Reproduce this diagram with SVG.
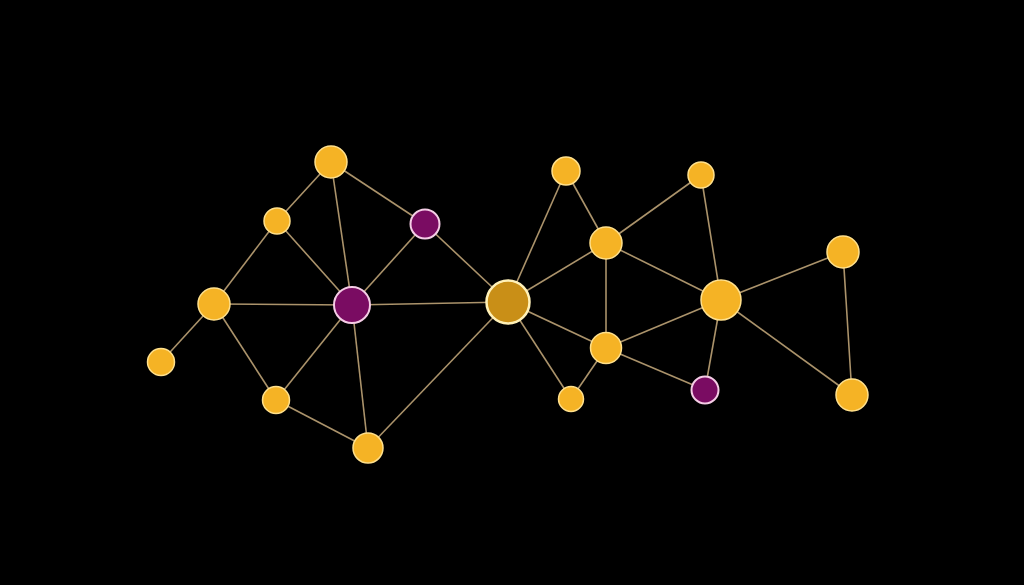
<svg xmlns="http://www.w3.org/2000/svg" width="1024" height="585" viewBox="0 0 1024 585">
<style>
.e{stroke:#c9ad7e;stroke-width:1.6;fill:none;opacity:0.85}
.y{fill:#f5b325;stroke:#ffe08c;stroke-width:1.5}
.p{fill:#7a0c62;stroke:#f5cde6;stroke-width:2}
.g{fill:#c98f17;stroke:#fff1b8;stroke-width:2.5}
</style>
<rect width="1024" height="585" fill="#000"/>
<g id="connectors">
<line class="e" x1="331" y1="162" x2="277" y2="221"/>
<line class="e" x1="331" y1="162" x2="425" y2="224"/>
<line class="e" x1="331" y1="162" x2="352" y2="305"/>
<line class="e" x1="277" y1="221" x2="214" y2="304"/>
<line class="e" x1="277" y1="221" x2="352" y2="305"/>
<line class="e" x1="425" y1="224" x2="352" y2="305"/>
<line class="e" x1="425" y1="224" x2="508" y2="302"/>
<line class="e" x1="214" y1="304" x2="352" y2="305"/>
<line class="e" x1="214" y1="304" x2="161" y2="362"/>
<line class="e" x1="214" y1="304" x2="276" y2="400"/>
<line class="e" x1="276" y1="400" x2="352" y2="305"/>
<line class="e" x1="276" y1="400" x2="368" y2="448"/>
<line class="e" x1="352" y1="305" x2="368" y2="448"/>
<line class="e" x1="352" y1="305" x2="508" y2="302"/>
<line class="e" x1="368" y1="448" x2="508" y2="302"/>
<line class="e" x1="508" y1="302" x2="566" y2="171"/>
<line class="e" x1="508" y1="302" x2="606" y2="243"/>
<line class="e" x1="508" y1="302" x2="606" y2="348"/>
<line class="e" x1="508" y1="302" x2="571" y2="399"/>
<line class="e" x1="566" y1="171" x2="606" y2="243"/>
<line class="e" x1="606" y1="243" x2="701" y2="175"/>
<line class="e" x1="606" y1="243" x2="721" y2="300"/>
<line class="e" x1="606" y1="243" x2="606" y2="348"/>
<line class="e" x1="701" y1="175" x2="721" y2="300"/>
<line class="e" x1="606" y1="348" x2="721" y2="300"/>
<line class="e" x1="606" y1="348" x2="705" y2="390"/>
<line class="e" x1="606" y1="348" x2="571" y2="399"/>
<line class="e" x1="721" y1="300" x2="705" y2="390"/>
<line class="e" x1="721" y1="300" x2="843" y2="252"/>
<line class="e" x1="721" y1="300" x2="852" y2="395"/>
<line class="e" x1="843" y1="252" x2="852" y2="395"/>
</g>
<g id="n1"><circle class="y" cx="331" cy="162" r="16"/></g>
<g id="n2"><circle class="y" cx="277" cy="221" r="13"/></g>
<g id="n3"><circle class="p" cx="425" cy="224" r="14.5"/></g>
<g id="n4"><circle class="y" cx="214" cy="304" r="16"/></g>
<g id="n5"><circle class="p" cx="352" cy="305" r="18"/></g>
<g id="n6"><circle class="y" cx="161" cy="362" r="13.5"/></g>
<g id="n7"><circle class="y" cx="276" cy="400" r="13.5"/></g>
<g id="n8"><circle class="y" cx="368" cy="448" r="15"/></g>
<g id="n9"><circle class="g" cx="508" cy="302" r="21.5"/></g>
<g id="n10"><circle class="y" cx="566" cy="171" r="14"/></g>
<g id="n11"><circle class="y" cx="701" cy="175" r="13"/></g>
<g id="n12"><circle class="y" cx="606" cy="243" r="16"/></g>
<g id="n13"><circle class="y" cx="721" cy="300" r="20"/></g>
<g id="n14"><circle class="y" cx="843" cy="252" r="16"/></g>
<g id="n15"><circle class="y" cx="606" cy="348" r="15.5"/></g>
<g id="n16"><circle class="y" cx="571" cy="399" r="12.5"/></g>
<g id="n17"><circle class="p" cx="705" cy="390" r="13.5"/></g>
<g id="n18"><circle class="y" cx="852" cy="395" r="16"/></g>
</svg>
